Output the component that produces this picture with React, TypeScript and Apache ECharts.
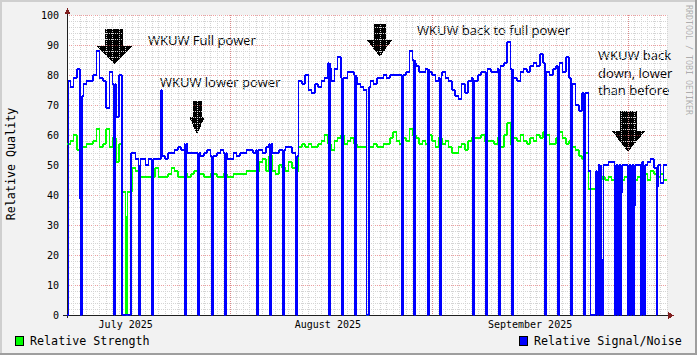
import React, { useEffect, useRef } from "react";
import * as echarts from "echarts";

// x values are days relative to 1 Aug 2025 00:00
const START_DAY = -25;
const END_DAY = 67;
const SAMPLE_DAYS = 0.5;

const monthStartDays = [0, 31, 61];
const monthLabelDays = [-16, 15, 46];
const monthLabels = ["July 2025", "August 2025", "September 2025"];

// Relative Signal/Noise, one value per half day
const signalNoise = [
  78, 76, 79, 82, 73, 77, 78, 78, 80, 88,
  79, 78, 69, 81, 77, 66, 80, 80, 54, 54,
  54, 52, 52, 52, 50, 52, 52, 52, 52, 53,
  52, 54, 54, 55, 56, 55, 57, 54, 54, 54,
  54, 53, 54, 55, 53, 53, 54, 55, 54, 52,
  52, 54, 53, 54, 54, 55, 55, 54, 55, 55,
  54, 56, 57, 54, 54, 55, 55, 56, 56, 54,
  53, 78, 77, 80, 75, 74, 77, 76, 78, 79,
  84, 78, 82, 86, 79, 79, 81, 81, 80, 77,
  76, 75, 76, 78, 77, 79, 79, 80, 79, 80,
  80, 80, 80, 80, 81, 88, 85, 83, 81, 81,
  82, 81, 80, 78, 79, 81, 79, 78, 75, 73,
  72, 77, 74, 78, 79, 78, 80, 81, 81, 82,
  81, 81, 82, 83, 84, 91, 82, 79, 78, 81,
  82, 81, 83, 84, 83, 87, 84, 81, 80, 82,
  83, 84, 81, 86, 79, 77, 70, 68, 74, 74,
  48, 49, 48, 50, 50, 50, 51, 51, 50, 50,
  50, 50, 50, 50, 50, 50, 51, 50, 51, 52,
  49, 50, 44, 50,
];

// Relative Strength, one value per half day
const strength = [
  57, 58, 60, 55, 56, 56, 57, 57, 58, 62,
  56, 57, 62, 56, 59, 51, 57, 41, 41, 41,
  49, 48, 46, 46, 46, 46, 46, 49, 46, 46,
  46, 47, 49, 48, 46, 46, 47, 46, 47, 48,
  47, 47, 46, 46, 47, 47, 46, 46, 47, 46,
  46, 47, 47, 47, 47, 48, 48, 48, 48, 51,
  52, 48, 53, 48, 47, 50, 49, 48, 51, 49,
  48, 56, 57, 56, 57, 56, 56, 57, 58, 60,
  57, 55, 58, 59, 60, 57, 58, 59, 57, 56,
  56, 56, 56, 56, 57, 56, 56, 57, 57, 59,
  61, 58, 57, 59, 58, 62, 60, 59, 57, 58,
  57, 60, 58, 56, 59, 57, 58, 56, 54, 54,
  56, 57, 55, 58, 59, 59, 59, 60, 58, 58,
  58, 57, 59, 56, 60, 64, 57, 59, 58, 60,
  58, 57, 59, 58, 60, 59, 61, 60, 57, 57,
  59, 61, 59, 57, 58, 56, 55, 53, 52, 54,
  42, 42, 44, 45, 46, 45, 46, 45, 46, 46,
  45, 46, 45, 46, 45, 46, 46, 47, 45, 48,
  47, 46, 47, 45,
];

// short excursions: [from day, to day, value]
const signalOutages = [
  [-25.0, -24.8, 0], [-22.93, -22.71, 0], [-17.83, -17.61, 0], [-16.57, -15.19, 0],
  [-13.93, -13.71, 0], [-11.93, -11.71, 0], [-10.6, -10.4, 75], [-6.88, -6.66, 0],
  [-4.88, -4.66, 0], [-2.85, -2.63, 0], [-0.85, -0.63, 0], [4.16, 4.38, 0],
  [6.15, 6.37, 0], [8.15, 8.37, 0], [10.14, 10.36, 0], [15.2, 15.42, 0],
  [17.19, 17.41, 0], [19.19, 19.41, 0], [20.95, 21.3, 0], [26.28, 26.5, 0],
  [28.23, 28.45, 0], [30.27, 30.49, 0], [32.22, 32.44, 0], [37.28, 37.5, 0],
  [39.27, 39.49, 0], [41.26, 41.48, 0], [43.26, 43.48, 0], [48.32, 48.54, 0],
  [50.31, 50.53, 0], [52.3, 52.52, 0], [54.3, 54.52, 0], [55.27, 56.11, 0],
  [56.26, 56.48, 0], [56.72, 56.94, 0], [57.03, 57.25, 0], [58.94, 59.16, 0],
  [59.4, 59.62, 0], [59.86, 60.08, 0], [60.94, 61.16, 0], [61.4, 61.62, 0],
  [61.86, 62.08, 0], [62.93, 63.15, 0], [63.39, 63.61, 0], [65.38, 65.6, 0],
];
const strengthOutages = [
  [-15.95, -15.7, 0], [20.95, 21.3, 0],
];

function buildSteps(values: number[], outages: number[][]) {
  const cuts: number[] = [];
  for (let i = 0; i <= values.length; i++) cuts.push(START_DAY + i * SAMPLE_DAYS);
  outages.forEach((o) => cuts.push(o[0], o[1]));
  cuts.sort((a, b) => a - b);
  const out: number[][] = [];
  for (let k = 0; k < cuts.length - 1; k++) {
    const a = cuts[k];
    const b = cuts[k + 1];
    if (b - a < 1e-9) continue;
    const m = (a + b) / 2;
    const idx = Math.floor((m - START_DAY) / SAMPLE_DAYS);
    if (idx < 0 || idx >= values.length) continue;
    let v = values[idx];
    for (const o of outages) if (m > o[0] && m < o[1]) v = o[2];
    out.push([a, v], [b, v]);
  }
  return out;
}

const MONO = "DejaVu Sans Mono";
const GRID = "#d4d4d4";
const MGRID = "rgba(222,79,79,0.55)";

export default function App() {
  const ref = useRef<HTMLDivElement>(null);
  useEffect(() => {
    const chart = echarts.init(ref.current!, null, { renderer: "svg" });
    const option: any = {
      animation: false,
      backgroundColor: "#f2f2f2",
      grid: {
        left: 67, top: 15, width: 600, height: 300,
        show: true, backgroundColor: "#ffffff", borderWidth: 0,
      },
      xAxis: [
        {
          type: "value", min: START_DAY, max: END_DAY, interval: 1,
          axisLine: { show: true, onZero: false, lineStyle: { color: "#1f1f1f", width: 1 } },
          axisTick: { show: false },
          axisLabel: { show: false },
          splitLine: { show: true, lineStyle: { color: GRID, type: [1, 1], width: 1 } },
        },
        {
          type: "value", min: START_DAY, max: END_DAY, position: "bottom",
          axisLine: { show: false }, axisTick: { show: false }, splitLine: { show: false },
          axisLabel: {
            customValues: monthLabelDays,
            formatter: (v: number) => monthLabels[monthLabelDays.indexOf(v)] ?? "",
            fontFamily: MONO, fontSize: 10, color: "#000", margin: 4,
          },
        },
      ],
      yAxis: {
        type: "value", min: 0, max: 100, interval: 10,
        axisLine: { show: true, onZero: false, lineStyle: { color: "#1f1f1f", width: 1 } },
        axisTick: { show: false },
        axisLabel: { fontFamily: MONO, fontSize: 10, color: "#000", margin: 8 },
        splitLine: { show: true, lineStyle: { color: MGRID, type: [1, 1], width: 1 } },
        minorTick: { show: false, splitNumber: 5 },
        minorSplitLine: { show: true, lineStyle: { color: GRID, type: [1, 1], width: 1 } },
      },
      series: [
        {
          type: "custom", xAxisIndex: 0, yAxisIndex: 0, silent: true, z: 1,
          data: monthStartDays.map((d) => [d, 0]),
          renderItem: (params: any, api: any) => {
            const top = api.coord([api.value(0), 100]);
            const bot = api.coord([api.value(0), 0]);
            const x = Math.round(top[0]) + 0.5;
            return {
              type: "line",
              shape: { x1: x, y1: top[1], x2: x, y2: bot[1] },
              style: { stroke: MGRID, lineWidth: 1, lineDash: [1, 1] },
            };
          },
        },
        {
          name: "Relative Strength", type: "line", xAxisIndex: 0, yAxisIndex: 0,
          data: buildSteps(strength, strengthOutages),
          symbol: "none", showSymbol: false, z: 3, silent: true,
          lineStyle: { color: "#00ff00", width: 1.5 },
        },
        {
          name: "Relative Signal/Noise", type: "line", xAxisIndex: 0, yAxisIndex: 0,
          data: buildSteps(signalNoise, signalOutages),
          symbol: "none", showSymbol: false, z: 4, silent: true,
          lineStyle: { color: "#0000ff", width: 1.5 },
        },
      ],
      graphic: [
        { type: "rect", shape: { x: 0, y: 0, width: 697, height: 2 }, style: { fill: "#cfcfcf" } },
        { type: "rect", shape: { x: 0, y: 0, width: 2, height: 355 }, style: { fill: "#cfcfcf" } },
        { type: "rect", shape: { x: 0, y: 353, width: 697, height: 2 }, style: { fill: "#9e9e9e" } },
        { type: "rect", shape: { x: 695, y: 0, width: 2, height: 355 }, style: { fill: "#9e9e9e" } },
        { type: "line", shape: { x1: 63, y1: 315.5, x2: 668, y2: 315.5 }, style: { stroke: "#1f1f1f", lineWidth: 1 } },
        { type: "line", shape: { x1: 67.5, y1: 13, x2: 67.5, y2: 318 }, style: { stroke: "#1f1f1f", lineWidth: 1 } },
        { type: "polygon", shape: { points: [[64.5, 14], [70.5, 14], [67.5, 8]] }, style: { fill: "#801f1f" } },
        { type: "polygon", shape: { points: [[668, 312], [668, 319], [674, 315.5]] }, style: { fill: "#801f1f" } },
        {
          type: "text", x: 11, y: 164, rotation: Math.PI / 2,
          style: { text: "Relative Quality", fontFamily: MONO, fontSize: 11.7, fill: "#000", textAlign: "center", textVerticalAlign: "middle" },
        },
        {
          type: "text", x: 689, y: 5, rotation: -Math.PI / 2,
          style: { text: "RRDTOOL / TOBI OETIKER", fontFamily: MONO, fontSize: 8.3, fill: "rgba(0,0,0,0.3)", textAlign: "left", textVerticalAlign: "middle" },
        },
        { type: "rect", shape: { x: 15.5, y: 336.5, width: 8, height: 9 }, style: { fill: "#00ff00", stroke: "#000", lineWidth: 1 } },
        { type: "text", x: 30, y: 341, style: { text: "Relative Strength", fontFamily: MONO, fontSize: 11.7, fill: "#000", textVerticalAlign: "middle" } },
        { type: "rect", shape: { x: 519.5, y: 336.5, width: 8, height: 9 }, style: { fill: "#0000ff", stroke: "#000", lineWidth: 1 } },
        { type: "text", x: 534, y: 341, style: { text: "Relative Signal/Noise", fontFamily: MONO, fontSize: 11.7, fill: "#000", textVerticalAlign: "middle" } },
        // annotations
        { type: "polygon", shape: { points: [[105, 29], [123, 29], [123, 46], [132, 46], [114, 64], [96, 46], [105, 46]] }, style: { fill: "#000" } },
        { type: "polygon", shape: { points: [[193, 101], [202, 101], [202, 117], [205, 117], [197, 134], [189, 117], [193, 117]] }, style: { fill: "#000" } },
        { type: "polygon", shape: { points: [[374, 24], [386, 24], [386, 40], [392, 40], [380, 57], [367, 40], [374, 40]] }, style: { fill: "#000" } },
        { type: "polygon", shape: { points: [[620, 111], [637, 111], [637, 131], [645, 131], [628, 152], [612, 131], [620, 131]] }, style: { fill: "#000" } },
        { type: "text", x: 148, y: 40, style: { text: "WKUW Full power", fontFamily: "Open Sans", fontSize: 13, fill: "#000", textVerticalAlign: "middle" } },
        { type: "text", x: 160, y: 82, style: { text: "WKUW lower power", fontFamily: "Open Sans", fontSize: 13, fill: "#000", textVerticalAlign: "middle" } },
        { type: "text", x: 417, y: 30, style: { text: "WKUW back to full power", fontFamily: "Open Sans", fontSize: 13, fill: "#000", textVerticalAlign: "middle" } },
        { type: "text", x: 598, y: 72.5, style: { text: "WKUW back\ndown, lower\nthan before", fontFamily: "Open Sans", fontSize: 13, lineHeight: 17.5, fill: "#000", textVerticalAlign: "middle" } },
      ],
    };
    chart.setOption(option);
    return () => chart.dispose();
  }, []);
  return (
    <>
      <style>{".rrd-chart svg path { shape-rendering: crispEdges; }"}</style>
      <div
        ref={ref}
        className="rrd-chart"
        style={{ position: "fixed", left: 0, top: 0, width: 697, height: 355 }}
      />
    </>
  );
}
